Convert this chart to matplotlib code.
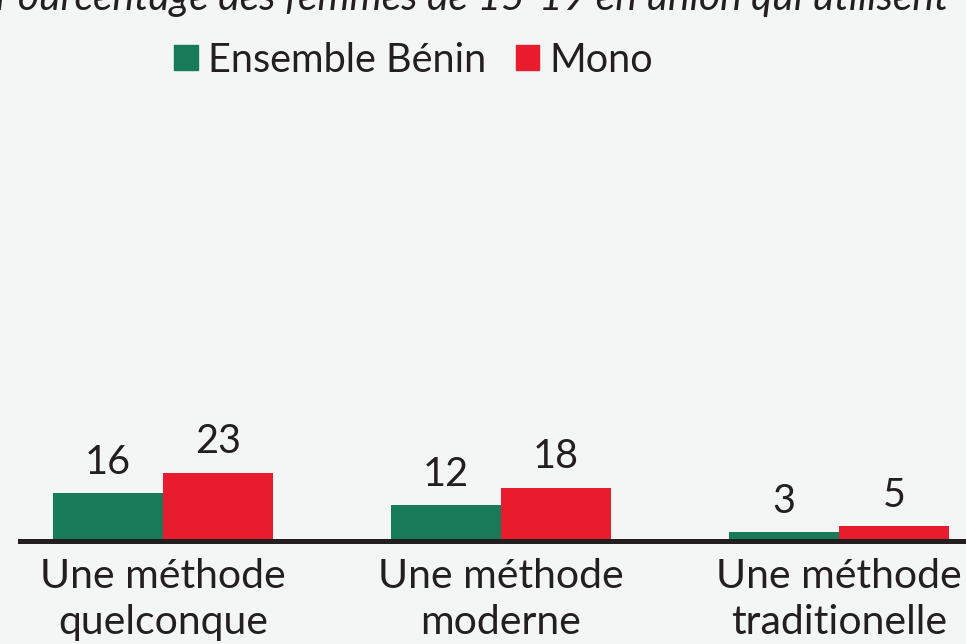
import numpy as np
import matplotlib.pyplot as plt
from matplotlib.patches import Patch

# data
categories = ['Une méthode\nquelconque', 'Une méthode\nmoderne', 'Une méthode\ntraditionelle']
benin = [16, 12, 3]
mono = [23, 18, 5]
series_names = ['Ensemble Bénin', 'Mono']
title = 'Pourcentage des femmes de 15-19 en union qui utilisent'

bg = '#f3f6f5'
green = '#177a58'
red = '#e91c2e'
txt = '#231f20'

plt.rcParams['font.family'] = ['Lato', 'DejaVu Sans']

fig = plt.figure(figsize=(9.66, 6.44), dpi=100, facecolor=bg)
ax = fig.add_axes([20 / 966, 1 - 541 / 644, 946 / 966, 297 / 644])
ax.set_facecolor(bg)

x = np.arange(len(categories))
w = 0.325
b1 = ax.bar(x - w / 2, benin, w, color=green)
b2 = ax.bar(x + w / 2, mono, w, color=red)

for bars in (b1, b2):
    for b in bars:
        ax.annotate('{}'.format(int(b.get_height())),
                    (b.get_x() + b.get_width() / 2, b.get_height()),
                    xytext=(0, 9), textcoords='offset points',
                    ha='center', va='bottom', fontsize=28.5, color=txt)

ax.set_xlim(-0.423, 2.376)
ax.set_ylim(0, 100)
ax.set_xticks(x)
ax.set_xticklabels(categories, fontsize=29.5, color=txt, linespacing=1.3)
ax.tick_params(axis='x', length=0, pad=12)
ax.set_yticks([])
for s in ['top', 'left', 'right']:
    ax.spines[s].set_visible(False)
ax.spines['bottom'].set_linewidth(3.6)
ax.spines['bottom'].set_color(txt)

handles = [Patch(color=green), Patch(color=red)]
fig.legend(handles, series_names, loc='center left', bbox_to_anchor=(174 / 966, 1 - 60 / 644),
           ncol=2, frameon=False, fontsize=28.5, labelcolor=txt,
           handlelength=0.6, handleheight=0.6, handletextpad=0.25, columnspacing=0.75,
           borderaxespad=0, borderpad=0)

# title is cropped at the top edge, as in the source image
fig.text(-0.005, 1 - 10 / 644, title, fontsize=29.3, style='italic', color=txt,
         ha='left', va='baseline')

fig.savefig('out.png', dpi=100, facecolor=bg)
